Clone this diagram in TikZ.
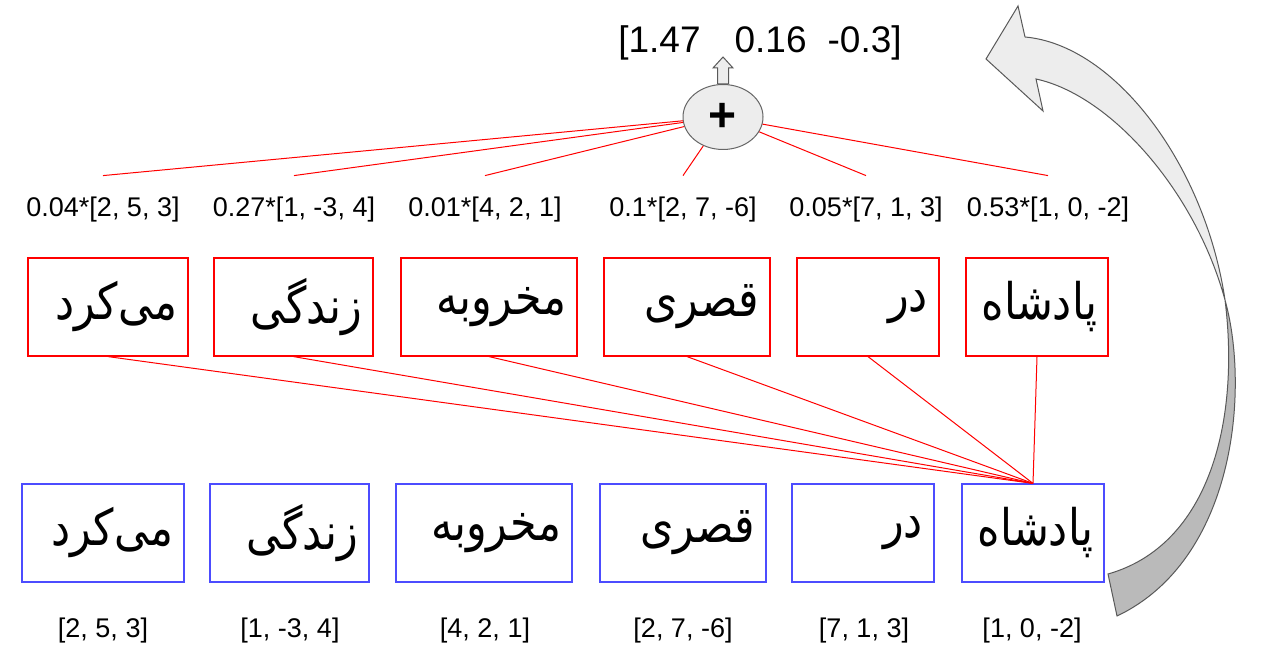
\documentclass[tikz,border=0pt]{standalone}
\usepackage{fontspec}
\usepackage{graphicx}
\setmainfont{Liberation Sans}
\newfontfamily\persianfont[Script=Arabic]{DejaVu Sans}
\TeXXeTstate=1
\usetikzlibrary{shapes.geometric}

\newcommand{\faword}[1]{\raisebox{-4.5pt}{\scalebox{1.02}[1.2]{\beginR #1\endR}}}

\tikzset{
	wordtop/.style={draw=red, line width=0.6pt, text width=#1, align=right, minimum height=49pt, inner xsep=5.5pt, font=\persianfont\fontsize{21}{26}\selectfont},
	wordbot/.style={draw=blue!70, line width=0.6pt, text width=#1, align=right, minimum height=49pt, inner xsep=5.5pt, font=\persianfont\fontsize{21}{26}\selectfont},
	weighted/.style={minimum height=34pt, inner sep=0pt, font=\fontsize{13.5}{16}\selectfont},
	vect/.style={inner sep=1pt, font=\fontsize{13.5}{16}\selectfont},
	redline/.style={draw=red, line width=0.5pt},
	plusnode/.style={ellipse, draw=black!60, fill=black!7, line width=0.5pt, minimum width=40pt, minimum height=32.5pt, inner sep=0pt, font=\fontsize{24}{26}\selectfont\bfseries},
	lightpart/.style={fill=black!7, draw=black!65, line width=0.5pt},
	darkpart/.style={fill=black!27, draw=black!65, line width=0.5pt}
}

\begin{document}
\begin{tikzpicture}[x=0.5pt, y=-0.5pt]
	\useasboundingbox (0,0) rectangle (1288,667);

	% top row
	\node[wordtop=69pt](one) at (108,307){\faword{می‌کرد}};
	\node[wordtop=68.5pt](two) at (293.5,307){\faword{زندگی}};
	\node[wordtop=77pt](three) at (489,307){\faword{مخروبه}};
	\node[wordtop=72pt](four) at (687,307){\faword{قصری}};
	\node[wordtop=60pt](five) at (868,307){\faword{در}};
	\node[wordtop=60pt](six) at (1037,307){\faword{پادشاه}};

	% bottom row
	\node[wordbot=70pt](seven) at (103,533){\faword{می‌کرد}};
	\node[wordbot=68.5pt](eight) at (289.5,533){\faword{زندگی}};
	\node[wordbot=77pt](nine) at (484,533){\faword{مخروبه}};
	\node[wordbot=72pt](ten) at (683,533){\faword{قصری}};
	\node[wordbot=60pt](eleven) at (863,533){\faword{در}};
	\node[wordbot=60pt](twelve) at (1033,533){\faword{پادشاه}};

	% weighted vectors
	\node[weighted](wone) at (103,210){0.04*[2, 5, 3]};
	\node[weighted](wtwo) at (294,210){0.27*[1, -3, 4]};
	\node[weighted](wthree) at (485,210){0.01*[4, 2, 1]};
	\node[weighted](wfour) at (683,210){0.1*[2, 7, -6]};
	\node[weighted](wfive) at (866,210){0.05*[7, 1, 3]};
	\node[weighted](wsix) at (1048,210){0.53*[1, 0, -2]};

	\node[vect](vone) at (103,631){[2, 5, 3]};
	\node[vect](vtwo) at (290,631){[1, -3, 4]};
	\node[vect](vthree) at (485,631){[4, 2, 1]};
	\node[vect](vfour) at (683,631){[2, 7, -6]};
	\node[vect](vfive) at (864,631){[7, 1, 3]};
	\node[vect](vsix) at (1032,631){[1, 0, -2]};

	\node[plusnode](plus) at (723,117){+};
	\node[font=\fontsize{18.5}{20}\selectfont, inner sep=0pt](result) at (760,43){[1.47\hspace{17pt}0.16\hspace{10.5pt}-0.3]};

	\filldraw[lightpart] (plus.north) ++(-5.5,0) -- ++(0,-16) -- ++(-4.5,0) -- ++(10,-11) -- ++(10,11) -- ++(-4.5,0) -- ++(0,16) -- cycle;

	\draw[redline] (one.south) -- (twelve.north);
	\draw[redline] (two.south) -- (twelve.north);
	\draw[redline] (three.south) -- (twelve.north);
	\draw[redline] (four.south) -- (twelve.north);
	\draw[redline] (five.south) -- (twelve.north);
	\draw[redline] (six.south) -- (twelve.north);

	\draw[redline] (plus) -- (wone.north);
	\draw[redline] (plus) -- (wtwo.north);
	\draw[redline] (plus) -- (wthree.north);
	\draw[redline] (plus) -- (wfour.north);
	\draw[redline] (plus) -- (wfive.north);
	\draw[redline] (plus) -- (wsix.north);

	% curved arrow back to the top
	\filldraw[darkpart] (1225,300) .. controls (1250,390) and (1235,560) .. (1117,616) -- (1108,574) .. controls (1210,545) and (1240,420) .. (1225,300) -- cycle;
	\filldraw[lightpart] (1036,79) -- (1043,111) -- (986,59) -- (1018,6) -- (1025,37) .. controls (1115,45) and (1205,165) .. (1225,300) .. controls (1195,190) and (1110,95) .. (1036,79) -- cycle;
\end{tikzpicture}
\end{document}
